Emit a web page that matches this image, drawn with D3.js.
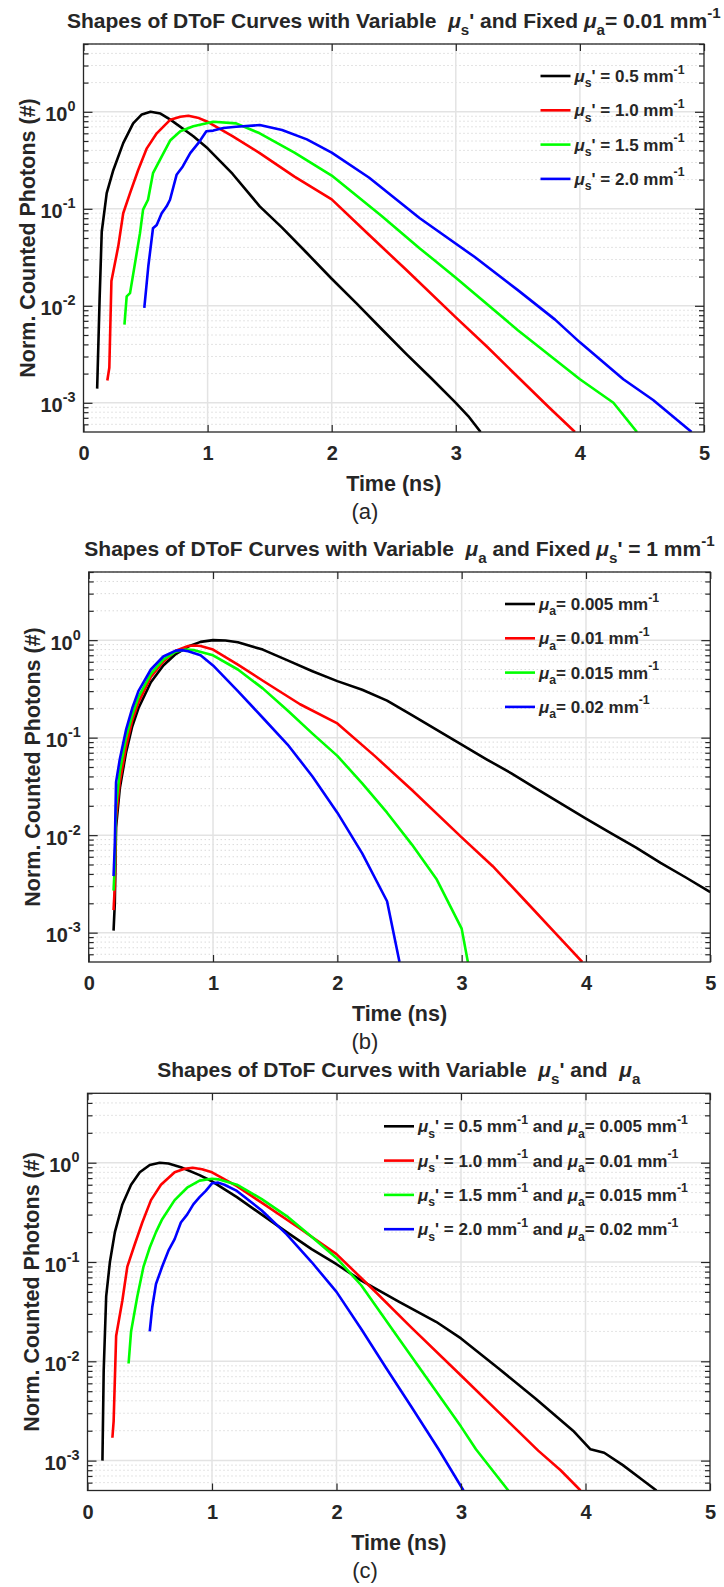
<!DOCTYPE html>
<html>
<head>
<meta charset="utf-8">
<script src="https://cdn.jsdelivr.net/npm/d3@7"></script>
<style>
body { margin: 0; background: #fff; }
text { font-family: "Liberation Sans", Arial, sans-serif; fill: #262626; white-space: pre; }
</style>
</head>
<body>
<script>
// ---- data ----
var colors = ['#000000', '#ff0000', '#00ff00', '#0000ff'];
var xTicks = [0, 1, 2, 3, 4, 5];
var yTicks = [1e-3, 1e-2, 1e-1, 1];
var yTickExp = ['-3', '-2', '-1', '0'];

// (a) variable mu_s', mu_a = 0.01
var aLegend = ['0.5', '1.0', '1.5', '2.0'];
var aBlack = [[0.11,1.4e-3],[0.13,0.012],[0.147,0.058],[0.187,0.145],[0.24,0.25],[0.32,0.475],[0.40,0.76],[0.47,0.94],[0.54,1.0],[0.62,0.96],[0.70,0.83],[0.885,0.56],[1.0,0.42],[1.2,0.23],[1.42,0.106],[1.6,0.064],[1.8,0.035],[2.0,0.019],[2.2,0.0106],[2.4,0.0058],[2.6,0.0032],[2.8,0.0018],[3.0,0.001],[3.1,7.3e-4],[3.2,5e-4]];
var aRed = [[0.192,1.7e-3],[0.208,2.3e-3],[0.225,0.018],[0.28,0.041],[0.32,0.09],[0.375,0.145],[0.44,0.25],[0.51,0.42],[0.59,0.6],[0.70,0.83],[0.78,0.89],[0.845,0.91],[0.92,0.87],[0.99,0.8],[1.2,0.56],[1.42,0.375],[1.7,0.215],[2.0,0.125],[2.3,0.054],[2.6,0.0235],[3.0,0.0076],[3.25,0.0038],[3.49,1.9e-3],[3.75,9e-4],[3.96,5e-4]];
var aGreen = [[0.33,6.4e-3],[0.348,0.0125],[0.375,0.0135],[0.415,0.0275],[0.455,0.056],[0.48,0.098],[0.52,0.124],[0.56,0.233],[0.616,0.32],[0.70,0.51],[0.78,0.63],[0.885,0.71],[1.046,0.79],[1.23,0.76],[1.42,0.6],[1.7,0.38],[2.0,0.22],[2.4,0.085],[2.71,0.039],[2.82,0.03],[3.0,0.0195],[3.5,5.6e-3],[4.0,1.75e-3],[4.27,1e-3],[4.46,5e-4]];
var aBlue = [[0.49,9.5e-3],[0.504,0.0146],[0.522,0.0254],[0.56,0.063],[0.59,0.068],[0.63,0.09],[0.67,0.106],[0.697,0.124],[0.75,0.224],[0.80,0.273],[0.86,0.375],[0.925,0.475],[0.99,0.63],[1.046,0.64],[1.127,0.68],[1.23,0.70],[1.42,0.73],[1.6,0.65],[1.8,0.52],[2.0,0.38],[2.3,0.21],[2.71,0.08],[3.15,0.032],[3.5,0.0145],[3.8,7.2e-3],[4.0,4.2e-3],[4.35,1.75e-3],[4.59,1.07e-3],[4.9,5e-4]];

// (b) variable mu_a, mu_s' = 1
var bLegend = ['0.005', '0.01', '0.015', '0.02'];
var bBlack = [[0.2,1.05e-3],[0.21,2e-3],[0.22,0.012],[0.25,0.03],[0.3,0.07],[0.35,0.13],[0.4,0.2],[0.5,0.37],[0.6,0.55],[0.7,0.72],[0.8,0.86],[0.9,0.96],[1.0,1.0],[1.1,0.99],[1.2,0.95],[1.4,0.8],[1.6,0.62],[1.8,0.48],[2.0,0.38],[2.2,0.31],[2.4,0.24],[2.6,0.17],[2.8,0.12],[3.0,0.085],[3.2,0.06],[3.4,0.043],[3.6,0.03],[3.8,0.021],[4.0,0.0148],[4.2,0.0105],[4.4,0.0075],[4.6,0.0052],[4.8,0.0037],[5.0,0.0026]];
var bRed = [[0.2,1.7e-3],[0.21,3e-3],[0.22,0.015],[0.25,0.035],[0.3,0.08],[0.35,0.15],[0.4,0.23],[0.5,0.42],[0.6,0.6],[0.7,0.78],[0.8,0.87],[0.85,0.88],[0.9,0.87],[1.0,0.8],[1.2,0.56],[1.42,0.37],[1.7,0.22],[2.0,0.14],[2.3,0.065],[2.6,0.029],[3.0,0.0095],[3.25,0.0048],[3.5,2.2e-3],[3.75,1e-3],[3.97,5e-4]];
var bGreen = [[0.2,2.7e-3],[0.21,5e-3],[0.22,0.02],[0.25,0.045],[0.3,0.1],[0.35,0.17],[0.4,0.26],[0.5,0.45],[0.6,0.63],[0.7,0.76],[0.78,0.8],[0.85,0.79],[1.0,0.7],[1.2,0.5],[1.4,0.32],[1.6,0.19],[1.8,0.11],[2.0,0.065],[2.2,0.034],[2.4,0.017],[2.6,8e-3],[2.8,3.5e-3],[3.0,1.1e-3],[3.05,5e-4]];
var bBlue = [[0.2,3.8e-3],[0.21,8e-3],[0.22,0.035],[0.25,0.06],[0.3,0.12],[0.35,0.2],[0.4,0.3],[0.5,0.5],[0.6,0.68],[0.7,0.78],[0.75,0.79],[0.8,0.77],[0.9,0.7],[1.0,0.55],[1.2,0.3],[1.4,0.16],[1.6,0.085],[1.8,0.04],[2.0,0.017],[2.2,6.5e-3],[2.4,2.1e-3],[2.5,5e-4]];

// (c) variable mu_s' and mu_a
var cLegendS = ['0.5', '1.0', '1.5', '2.0'];
var cLegendA = ['0.005', '0.01', '0.015', '0.02'];
var cBlack = [[0.12,1e-3],[0.13,8e-3],[0.15,0.045],[0.18,0.1],[0.22,0.2],[0.28,0.38],[0.35,0.6],[0.42,0.8],[0.5,0.95],[0.58,1.0],[0.65,0.98],[0.75,0.9],[0.9,0.75],[1.0,0.65],[1.2,0.45],[1.4,0.3],[1.6,0.2],[1.8,0.135],[2.0,0.095],[2.2,0.065],[2.5,0.04],[2.8,0.025],[3.0,0.017],[3.3,8.5e-3],[3.6,4.2e-3],[3.9,2e-3],[4.04,1.3e-3],[4.15,1.2e-3],[4.3,9e-4],[4.45,6.5e-4],[4.57,5e-4]];
var cRed = [[0.2,1.7e-3],[0.21,2.5e-3],[0.23,0.018],[0.28,0.041],[0.32,0.09],[0.375,0.145],[0.44,0.25],[0.51,0.42],[0.59,0.6],[0.70,0.8],[0.78,0.87],[0.845,0.89],[0.92,0.86],[1.0,0.8],[1.2,0.58],[1.42,0.38],[1.7,0.22],[2.0,0.12],[2.3,0.052],[2.6,0.022],[3.0,7.2e-3],[3.3,3.1e-3],[3.62,1.26e-3],[3.8,8e-4],[3.96,5e-4]];
var cGreen = [[0.33,9.5e-3],[0.35,0.02],[0.4,0.045],[0.45,0.09],[0.5,0.14],[0.55,0.2],[0.6,0.27],[0.7,0.42],[0.8,0.56],[0.9,0.66],[1.0,0.69],[1.05,0.68],[1.2,0.6],[1.4,0.43],[1.6,0.29],[1.8,0.18],[2.0,0.11],[2.2,0.058],[2.5,0.017],[2.8,5e-3],[3.0,2.2e-3],[3.12,1.3e-3],[3.38,5e-4]];
var cBlue = [[0.5,0.02],[0.52,0.035],[0.55,0.06],[0.6,0.09],[0.65,0.13],[0.7,0.17],[0.75,0.25],[0.8,0.3],[0.85,0.38],[0.9,0.45],[0.95,0.52],[1.0,0.62],[1.05,0.63],[1.1,0.6],[1.2,0.52],[1.4,0.33],[1.6,0.19],[1.8,0.1],[2.0,0.05],[2.2,0.021],[2.4,8.5e-3],[2.6,3.5e-3],[2.82,1.3e-3],[3.02,5e-4]];

var width = 724,
	height = 1587;

var svg = d3.select('body')
	.append('svg')
	.attr('width', width)
	.attr('height', height);

// write text with sub/superscripts: parts are strings or {t, sub|sup|it}
function rich(text, parts, size) {
	var shift = 0;
	parts.forEach(function(p) {
		if (typeof p === 'string') p = { t: p };
		var ts = text.append('tspan').text(p.t);
		var target = p.sub ? size * 0.32 : (p.sup ? -size * 0.5 : 0);
		if (target !== shift) { ts.attr('dy', target - shift); shift = target; }
		if (p.sub || p.sup) ts.attr('font-size', size * 0.72);
		if (p.it) ts.attr('font-style', 'italic');
	});
	return text;
}

function drawPanel(p) {
	var g = svg.append('g');
	var x = d3.scaleLinear().domain([0, 5]).range([p.left, p.right]);
	var y = d3.scaleLog().domain([5e-4, 5]).range([p.bottom, p.top]);
	var w = p.right - p.left,
		h = p.bottom - p.top;

	// minor values 2..9 x decade
	var minors = [];
	[1e-4, 1e-3, 1e-2, 1e-1, 1].forEach(function(d) {
		for (var k = 2; k <= 9; k++) {
			var v = d * k;
			if (v > 5e-4 && v <= 5) minors.push(v);
		}
	});

	// grid
	g.append('g').selectAll('line').data(minors).enter().append('line')
		.attr('x1', p.left).attr('x2', p.right)
		.attr('y1', function(d) { return y(d); }).attr('y2', function(d) { return y(d); })
		.attr('stroke', '#c8c8c8').attr('stroke-width', 1)
		.attr('stroke-dasharray', '1,3');
	g.append('g').selectAll('line').data(yTicks).enter().append('line')
		.attr('x1', p.left).attr('x2', p.right)
		.attr('y1', function(d) { return y(d); }).attr('y2', function(d) { return y(d); })
		.attr('stroke', '#e3e3e3').attr('stroke-width', 1.5);
	g.append('g').selectAll('line').data(xTicks.slice(1, 5)).enter().append('line')
		.attr('y1', p.top).attr('y2', p.bottom)
		.attr('x1', function(d) { return x(d); }).attr('x2', function(d) { return x(d); })
		.attr('stroke', '#e3e3e3').attr('stroke-width', 1.5);

	// curves, clipped to the box
	var clipId = 'clip' + p.name;
	g.append('clipPath').attr('id', clipId).append('rect')
		.attr('x', p.left).attr('y', p.top).attr('width', w).attr('height', h);
	var line = d3.line()
		.x(function(d) { return x(d[0]); })
		.y(function(d) { return y(d[1]); });
	g.append('g').attr('clip-path', 'url(#' + clipId + ')')
		.selectAll('path').data(p.series).enter().append('path')
		.attr('d', line)
		.attr('fill', 'none')
		.attr('stroke', function(d, i) { return colors[i]; })
		.attr('stroke-width', 2.6)
		.attr('stroke-linejoin', 'round');

	// axes with inward ticks
	function styleAxis(sel) {
		sel.select('.domain').remove();
		sel.selectAll('line').attr('stroke', '#262626').attr('stroke-width', 1.2);
	}
	var xb = g.append('g').attr('transform', 'translate(0,' + p.bottom + ')')
		.call(d3.axisBottom(x).tickValues(xTicks).tickSize(-7).tickPadding(14).tickFormat(d3.format('d')))
		.call(styleAxis);
	xb.selectAll('text').attr('font-size', 20).attr('font-weight', 'bold')
		.attr('font-family', '"Liberation Sans", Arial, sans-serif').attr('fill', '#262626');
	g.append('g').attr('transform', 'translate(0,' + p.top + ')')
		.call(d3.axisTop(x).tickValues(xTicks).tickSize(-7).tickFormat(''))
		.call(styleAxis);
	g.append('g').attr('transform', 'translate(' + p.left + ',0)')
		.call(d3.axisLeft(y).tickValues(yTicks).tickSize(-9).tickFormat(''))
		.call(styleAxis);
	g.append('g').attr('transform', 'translate(' + p.left + ',0)')
		.call(d3.axisLeft(y).tickValues(minors).tickSize(-5).tickFormat(''))
		.call(styleAxis);
	g.append('g').attr('transform', 'translate(' + p.right + ',0)')
		.call(d3.axisRight(y).tickValues(yTicks).tickSize(-9).tickFormat(''))
		.call(styleAxis);
	g.append('g').attr('transform', 'translate(' + p.right + ',0)')
		.call(d3.axisRight(y).tickValues(minors).tickSize(-5).tickFormat(''))
		.call(styleAxis);

	// box
	g.append('rect')
		.attr('x', p.left).attr('y', p.top).attr('width', w).attr('height', h)
		.attr('fill', 'none').attr('stroke', '#262626').attr('stroke-width', 1.3);

	// y tick labels 10^n
	yTicks.forEach(function(v, i) {
		var t = g.append('text')
			.attr('x', p.left - 8).attr('y', y(v) + 9.5)
			.attr('text-anchor', 'end')
			.attr('font-size', 20).attr('font-weight', 'bold');
		rich(t, ['10', { t: yTickExp[i], sup: true }], 20);
	});

	// axis labels
	g.append('text')
		.attr('x', (p.left + p.right) / 2).attr('y', p.bottom + 59)
		.attr('text-anchor', 'middle')
		.attr('font-size', 21.5).attr('font-weight', 'bold')
		.text('Time (ns)');
	g.append('text')
		.attr('transform', 'translate(' + (p.left - 49) + ',' + (p.top + h / 2) + ') rotate(-90)')
		.attr('text-anchor', 'middle')
		.attr('font-size', 21.5).attr('font-weight', 'bold')
		.text('Norm. Counted Photons (#)');

	// title
	var tt = g.append('text')
		.attr('x', (p.left + p.right) / 2).attr('y', p.top - 16)
		.attr('text-anchor', 'middle')
		.attr('font-size', 21).attr('font-weight', 'bold');
	rich(tt, p.title, 21);

	// legend (no box)
	p.legend.forEach(function(parts, i) {
		var ly = p.top + p.legendY + i * 34.3;
		g.append('line')
			.attr('x1', p.legendX).attr('x2', p.legendX + 30)
			.attr('y1', ly).attr('y2', ly)
			.attr('stroke', colors[i]).attr('stroke-width', 2.6);
		var lt = g.append('text')
			.attr('x', p.legendX + 34).attr('y', ly + 6)
			.attr('font-size', 17).attr('font-weight', 'bold');
		rich(lt, parts, 17);
	});

	// caption
	g.append('text')
		.attr('x', 365).attr('y', p.bottom + 87)
		.attr('text-anchor', 'middle')
		.attr('font-family', '"Liberation Serif", "Times New Roman", serif')
		.attr('font-size', 22)
		.text(p.caption);
}

var mu = { t: '\u03bc', it: true };

drawPanel({
	name: 'a', left: 83.5, right: 704, top: 44, bottom: 432,
	series: [aBlack, aRed, aGreen, aBlue],
	title: ['Shapes of DToF Curves with Variable  ', mu, { t: 's', sub: true }, "' and Fixed ", mu, { t: 'a', sub: true }, '= 0.01 mm', { t: '-1', sup: true }],
	legend: aLegend.map(function(v) {
		return [mu, { t: 's', sub: true }, "' = " + v + ' mm', { t: '-1', sup: true }];
	}),
	legendX: 540.5, legendY: 32,
	caption: '(a)'
});

drawPanel({
	name: 'b', left: 88.7, right: 710.3, top: 572, bottom: 962,
	series: [bBlack, bRed, bGreen, bBlue],
	title: ['Shapes of DToF Curves with Variable  ', mu, { t: 'a', sub: true }, ' and Fixed ', mu, { t: 's', sub: true }, "' = 1 mm", { t: '-1', sup: true }],
	legend: bLegend.map(function(v) {
		return [mu, { t: 'a', sub: true }, '= ' + v + ' mm', { t: '-1', sup: true }];
	}),
	legendX: 505, legendY: 32,
	caption: '(b)'
});

drawPanel({
	name: 'c', left: 87.5, right: 710, top: 1093.3, bottom: 1490.5,
	series: [cBlack, cRed, cGreen, cBlue],
	title: ['Shapes of DToF Curves with Variable  ', mu, { t: 's', sub: true }, "' and  ", mu, { t: 'a', sub: true }],
	legend: cLegendS.map(function(v, i) {
		return [mu, { t: 's', sub: true }, "' = " + v + ' mm', { t: '-1', sup: true }, ' and ', mu, { t: 'a', sub: true }, '= ' + cLegendA[i] + ' mm', { t: '-1', sup: true }];
	}),
	legendX: 384, legendY: 33,
	caption: '(c)'
});
</script>
</body>
</html>
